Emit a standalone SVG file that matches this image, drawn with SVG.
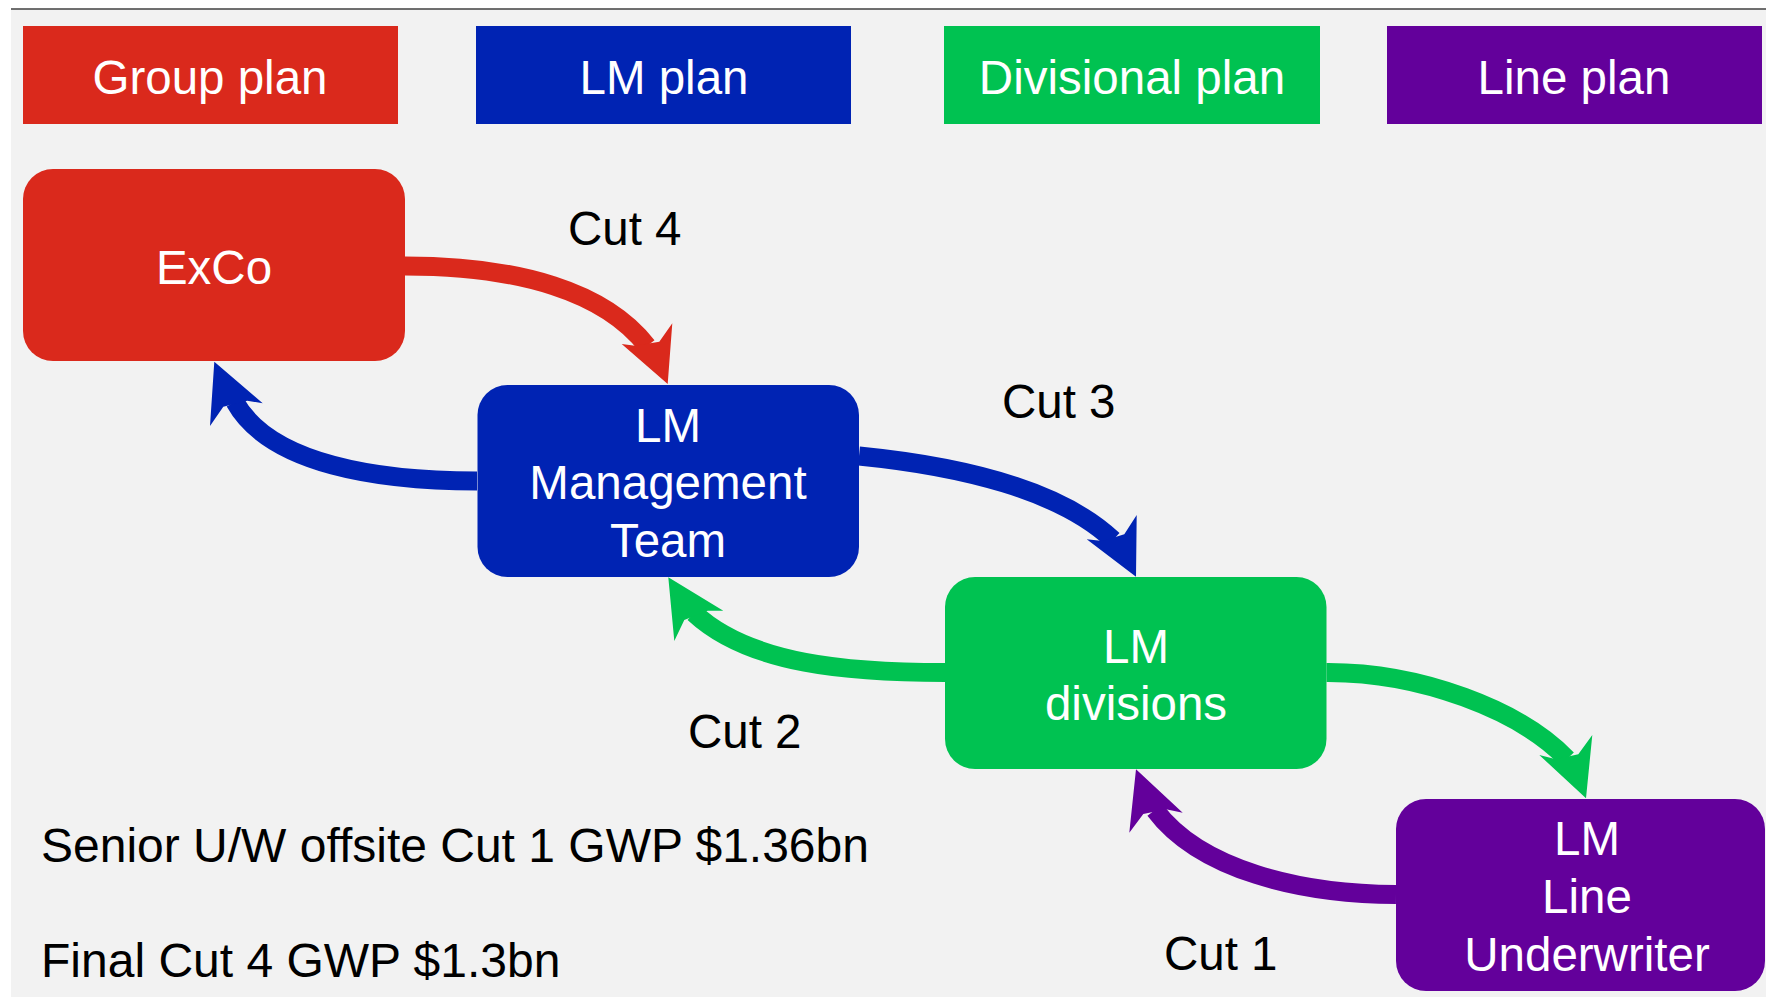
<svg xmlns="http://www.w3.org/2000/svg" width="1766" height="997" viewBox="0 0 1766 997">
<style>
text{font-family:"Liberation Sans",Arial,sans-serif;font-size:47.5px}
.w{fill:#ffffff;text-anchor:middle}
.k{fill:#000000}
.b{font-size:48px}
.sh{fill:none;stroke-width:19}
.red{fill:#DA291C}.blue{fill:#0023B3}.green{fill:#00C251}.purple{fill:#63009B}
</style>
<rect x="0" y="0" width="1766" height="997" fill="#ffffff"/>
<rect x="11" y="9" width="1755" height="988" fill="#F2F2F2"/>
<line x1="11" y1="9" x2="1766" y2="9" stroke="#404040" stroke-width="1.6"/>

<g id="hdr-group"><rect class="red" x="23" y="26" width="375" height="98"/><text class="w" x="210" y="94">Group plan</text></g>
<g id="hdr-lm"><rect class="blue" x="476" y="26" width="375" height="98"/><text class="w" x="664" y="94">LM plan</text></g>
<g id="hdr-div"><rect class="green" x="944" y="26" width="376" height="98"/><text class="w" x="1132" y="94">Divisional plan</text></g>
<g id="hdr-line"><rect class="purple" x="1387" y="26" width="375" height="98"/><text class="w" x="1574" y="94">Line plan</text></g>

<g id="connectors">
<path class="sh" stroke="#DA291C" d="M405,266 C520,266 605,292 647,346"/>
<polygon class="red" points="667.7,384 621.7,344 635,345.7 659.3,341.7 672.3,323.3"/>
<path class="sh" stroke="#0023B3" d="M477,481 C380,481 270,465 235,402"/>
<polygon class="blue" points="214.3,361.7 262.7,403.3 247.3,400.7 223.3,406.7 210,426"/>
<path class="sh" stroke="#0023B3" d="M859,456 C960,466 1060,490 1113,540"/>
<polygon class="blue" points="1136,576.7 1086.7,539.3 1102.7,541 1124.3,534.3 1136.7,515"/>
<path class="sh" stroke="#00C251" d="M945,672.5 C850,672.5 750,665 694,613"/>
<polygon class="green" points="668.3,577.3 723.3,610.7 707.7,610.7 684.3,620 674.3,641"/>
<path class="sh" stroke="#00C251" d="M1326.5,672.5 C1420,672 1520,710 1567,759"/>
<polygon class="green" points="1586,798.3 1539.3,755 1556,759.3 1578.3,754.3 1592.3,735"/>
<path class="sh" stroke="#63009B" d="M1396,894.5 C1300,894 1200,870 1155,810"/>
<polygon class="purple" points="1136,769.3 1182.7,812.7 1166,809.3 1143.3,814 1129.3,832.7"/>
</g>

<g id="exco"><rect class="red" x="23" y="169" width="382" height="192" rx="30"/><text class="w" x="214" y="284">ExCo</text></g>
<g id="lm-mgmt"><rect class="blue" x="477.5" y="385" width="381.5" height="192" rx="30"/><text class="w" x="668"><tspan x="668" y="442">LM</tspan><tspan x="668" y="499">Management</tspan><tspan x="668" y="557">Team</tspan></text></g>
<g id="lm-div"><rect class="green" x="945" y="577" width="381.5" height="192" rx="30"/><text class="w" x="1136"><tspan x="1136" y="663">LM</tspan><tspan x="1136" y="720">divisions</tspan></text></g>
<g id="lm-line"><rect class="purple" x="1396" y="799" width="369" height="192" rx="30"/><text class="w" x="1587"><tspan x="1587" y="855">LM</tspan><tspan x="1587" y="913">Line</tspan><tspan x="1587" y="971">Underwriter</tspan></text></g>

<g id="labels">
<text class="k" x="568" y="245">Cut 4</text>
<text class="k" x="1002" y="418">Cut 3</text>
<text class="k" x="688" y="748">Cut 2</text>
<text class="k" x="1164" y="970">Cut 1</text>
<text class="k b" x="41" y="862">Senior U/W offsite Cut 1 GWP $1.36bn</text>
<text class="k b" x="41" y="977">Final Cut 4 GWP $1.3bn</text>
</g>
</svg>
